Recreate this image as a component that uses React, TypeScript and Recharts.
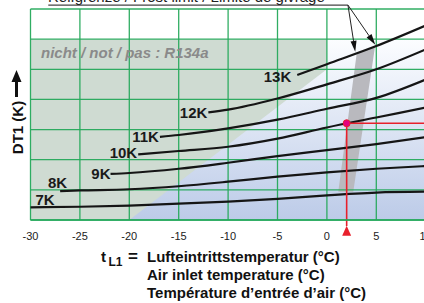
import {
  Area,
  CartesianGrid,
  ComposedChart,
  Line,
  ReferenceArea,
  ReferenceDot,
  ReferenceLine,
  XAxis,
  YAxis,
} from "recharts";

const FONT = '"Liberation Sans", Arial, Helvetica, sans-serif';
const GRID = "#25a95b";
const RED = "#e8202c";

const T_TICKS = [-30, -25, -20, -15, -10, -5, 0, 5, 10];
const DT_TICKS = [0, 1, 2, 3, 4, 5, 6, 7];

// DT1 curves (t = air inlet °C, dt = grid rows)
const CURVE_7K = [
  { t: -30, dt: 0.42 }, { t: -25, dt: 0.44 }, { t: -20, dt: 0.48 }, { t: -15, dt: 0.54 },
  { t: -10, dt: 0.61 }, { t: -5, dt: 0.7 }, { t: 0, dt: 0.82 }, { t: 5, dt: 0.91 }, { t: 10, dt: 0.94 },
];
const CURVE_8K = [
  { t: -27, dt: 0.96 }, { t: -25, dt: 0.98 }, { t: -20, dt: 1.02 }, { t: -15, dt: 1.12 },
  { t: -10, dt: 1.27 }, { t: -5, dt: 1.44 }, { t: 0, dt: 1.58 }, { t: 5, dt: 1.7 }, { t: 10, dt: 1.79 },
];
const CURVE_9K = [
  { t: -21.9, dt: 1.53 }, { t: -20, dt: 1.56 }, { t: -15, dt: 1.7 }, { t: -10, dt: 1.9 },
  { t: -5, dt: 2.12 }, { t: 0, dt: 2.32 }, { t: 5, dt: 2.52 }, { t: 10, dt: 2.75 },
];
const CURVE_10K = [
  { t: -19.1, dt: 2.18 }, { t: -15, dt: 2.29 }, { t: -10, dt: 2.43 }, { t: -5, dt: 2.7 },
  { t: 0, dt: 3.07 }, { t: 5, dt: 3.4 }, { t: 10, dt: 3.73 },
];
const CURVE_11K = [
  { t: -16.9, dt: 2.76 }, { t: -15, dt: 2.82 }, { t: -10, dt: 3.04 }, { t: -5, dt: 3.33 },
  { t: 0, dt: 3.69 }, { t: 5, dt: 4.05 }, { t: 10, dt: 4.66 },
];
const CURVE_12K = [
  { t: -12, dt: 3.57 }, { t: -10, dt: 3.66 }, { t: -5, dt: 4.03 }, { t: 0, dt: 4.5 },
  { t: 5, dt: 5.0 }, { t: 10, dt: 5.66 },
];
const CURVE_13K = [
  { t: -3, dt: 4.81 }, { t: 0, dt: 5.17 }, { t: 5, dt: 5.77 }, { t: 10, dt: 6.45 },
];

// shaded zones, as [lo, hi] ranges
const R134A_ZONE = [
  { t: -30, lo: 0, hi: 6 },
  { t: -20, lo: 0, hi: 6 },
  { t: 0, lo: 5, hi: 6 },
];
const FROST_BAND = [
  { t: 1.15, lo: 0.94, hi: 0.94 },
  { t: 2.67, lo: 0.94, hi: 4.67 },
  { t: 3.02, lo: 1.71, hi: 5.53 },
  { t: 4.87, lo: 5.75, hi: 5.75 },
];

const OPERATING_POINT = { t: 2, dt: 3.21 };
const NOTE_ORIGIN = { t: 2.13, dt: 7.13 };
const NOTE_START = -28.2;
const NOTE_TIPS = [
  { t: 2.87, dt: 5.58 },
  { t: 4.9, dt: 5.81 },
];

const CURVES = [
  { name: "7K", data: CURVE_7K },
  { name: "8K", data: CURVE_8K },
  { name: "9K", data: CURVE_9K },
  { name: "10K", data: CURVE_10K },
  { name: "11K", data: CURVE_11K },
  { name: "12K", data: CURVE_12K },
  { name: "13K", data: CURVE_13K },
];

const LABEL_POS: Record<string, { dx: number; dy: number; anchor: "start" | "end" }> = {
  "7K": { dx: 5, dy: -2, anchor: "start" },
  "8K": { dx: 7, dy: -3, anchor: "end" },
  "9K": { dx: 0, dy: 5, anchor: "end" },
  "10K": { dx: -1, dy: 4, anchor: "end" },
  "11K": { dx: -1, dy: 5, anchor: "end" },
  "12K": { dx: -1, dy: 6, anchor: "end" },
  "13K": { dx: -6, dy: 7, anchor: "end" },
};

function startLabel(name: string) {
  const pos = LABEL_POS[name];
  return (props: any) => {
    if (props.index !== 0) return <g />;
    const x = props.x ?? props.viewBox?.x;
    const y = props.y ?? props.viewBox?.y;
    return (
      <text
        x={x + pos.dx}
        y={y + pos.dy}
        textAnchor={pos.anchor}
        fontFamily={FONT}
        fontWeight="bold"
        fontSize={15}
        fill="#1a1a1a"
      >
        {name}
      </text>
    );
  };
}

function Arrow(props: any) {
  const { x1, y1, x2, y2 } = props;
  const a = Math.atan2(y2 - y1, x2 - x1);
  const len = 11;
  const half = 3;
  const bx = x2 - len * Math.cos(a);
  const by = y2 - len * Math.sin(a);
  const px = -Math.sin(a) * half;
  const py = Math.cos(a) * half;
  return (
    <g>
      <line x1={x1} y1={y1} x2={bx} y2={by} stroke="#222" strokeWidth={1} />
      <polygon points={`${x2},${y2} ${bx + px},${by + py} ${bx - px},${by - py}`} fill="#111" />
    </g>
  );
}

function Triangle(props: any) {
  const { cx, cy } = props;
  return <polygon points={`${cx},${cy - 5} ${cx + 4.5},${cy + 5} ${cx - 4.5},${cy + 5}`} fill={RED} />;
}

export default function App() {
  return (
    <div style={{ position: "absolute", left: 0, top: 0, width: 424, height: 303, overflow: "hidden", background: "#fff" }}>
      <ComposedChart
        width={440}
        height={303}
        margin={{ top: 9, right: 14.3, left: 30.5, bottom: 0 }}
      >
        <defs>
          <linearGradient id="blueFade" x1="0" y1="0" x2="0" y2="1">
            <stop offset="0" stopColor="#fcfdff" />
            <stop offset="1" stopColor="#bccbe8" />
          </linearGradient>
        </defs>
        <XAxis
          type="number"
          dataKey="t"
          domain={[-30, 10]}
          ticks={T_TICKS}
          interval={0}
          height={83}
          axisLine={{ stroke: GRID, strokeWidth: 1.5 }}
          tickLine={false}
          tickSize={6}
          tickMargin={6}
          tick={{ fill: "#222", fontSize: 11, fontFamily: '"Liberation Sans Narrow", "Liberation Sans", Arial, sans-serif' }}
        />
        <YAxis type="number" domain={[0, 7]} ticks={DT_TICKS} hide />

        <ReferenceArea x1={-30} x2={10} y1={0} y2={6} fill="url(#blueFade)" fillOpacity={1} stroke="none" zIndex={10} />
        <Area
          data={R134A_ZONE}
          dataKey={(d: any) => [d.lo, d.hi]}
          type="linear"
          stroke="none"
          fill="#cfdbd2"
          fillOpacity={1}
          isAnimationActive={false}
          zIndex={20}
        />
        <Area
          data={FROST_BAND}
          dataKey={(d: any) => [d.lo, d.hi]}
          type="linear"
          stroke="none"
          fill="#b9b9be"
          fillOpacity={1}
          isAnimationActive={false}
          zIndex={30}
        />

        <CartesianGrid stroke={GRID} strokeWidth={1.3} strokeOpacity={0.95} zIndex={150} />

        {CURVES.map((c) => (
          <Line
            key={c.name}
            data={c.data}
            dataKey="dt"
            type="monotone"
            stroke="#151515"
            strokeWidth={2.2}
            dot={false}
            activeDot={false}
            isAnimationActive={false}
            label={startLabel(c.name)}
            zIndex={400}
          />
        ))}

        <ReferenceLine
          segment={[{ x: OPERATING_POINT.t, y: OPERATING_POINT.dt }, { x: OPERATING_POINT.t, y: -0.2 }]}
          stroke={RED}
          strokeWidth={1.6}
          ifOverflow="visible"
          zIndex={450}
        />
        <ReferenceLine
          segment={[{ x: OPERATING_POINT.t, y: OPERATING_POINT.dt }, { x: 10, y: OPERATING_POINT.dt }]}
          stroke={RED}
          strokeWidth={1.6}
          ifOverflow="visible"
          zIndex={450}
        />
        <ReferenceDot
          x={OPERATING_POINT.t}
          y={OPERATING_POINT.dt}
          r={3.5}
          fill="#e4007f"
          stroke={RED}
          strokeWidth={1}
          zIndex={500}
        />
        <ReferenceDot x={OPERATING_POINT.t} y={-0.36} r={5} shape={Triangle} ifOverflow="visible" zIndex={500} />

        <ReferenceLine
          segment={[{ x: NOTE_START, y: NOTE_ORIGIN.dt }, { x: NOTE_ORIGIN.t, y: NOTE_ORIGIN.dt }]}
          stroke="#444"
          strokeWidth={1.2}
          ifOverflow="visible"
          zIndex={500}
        />
        {NOTE_TIPS.map((tip, i) => (
          <ReferenceLine
            key={i}
            segment={[{ x: NOTE_ORIGIN.t, y: NOTE_ORIGIN.dt }, { x: tip.t, y: tip.dt }]}
            shape={Arrow}
            ifOverflow="visible"
            zIndex={500}
          />
        ))}
      </ComposedChart>

      <svg
        width={424}
        height={303}
        style={{ position: "absolute", left: 0, top: 0, pointerEvents: "none" }}
        fontFamily={FONT}
      >
        <text x={48} y={2} fontSize={15} fill="#222">
          Reifgrenze / Frost limit / Limite de givrage
        </text>
        <text x={41} y={58} fontSize={15} fontWeight="bold" fontStyle="italic" fill="#8a8a8a">
          nicht / not / pas : R134a
        </text>
        <path d="M16.5 70 L21.5 82 L18 82 L18 97 L15 97 L15 82 L11.5 82 Z" fill="#111" />
        <text transform="translate(23,127.5) rotate(-90)" textAnchor="middle" fontSize={15} fontWeight="bold" fill="#111">
          DT1 (K)
        </text>
        <text x={101} y={261.5} fontSize={15} fontWeight="bold" fill="#111">t</text>
        <text x={108.5} y={265.5} fontSize={12} fontWeight="bold" fill="#111">L1</text>
        <text x={128} y={261.5} fontSize={17} fontWeight="bold" fill="#111">=</text>
        <text x={147} y={261.5} fontSize={15} fontWeight="bold" fill="#111">Lufteintrittstemperatur (°C)</text>
        <text x={147} y={279.5} fontSize={15} fontWeight="bold" fill="#111">Air inlet temperature (°C)</text>
        <text x={147} y={297.5} fontSize={15} fontWeight="bold" fill="#111">Température d’entrée d’air (°C)</text>
      </svg>
    </div>
  );
}
